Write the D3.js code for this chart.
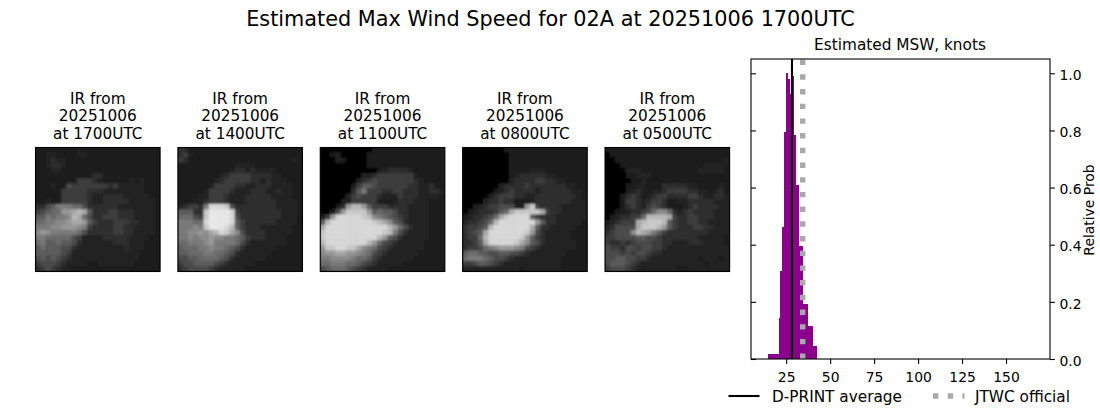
<!DOCTYPE html>
<html><head><meta charset="utf-8">
<script src="https://cdnjs.cloudflare.com/ajax/libs/d3/7.8.5/d3.min.js"></script>
<style>html,body{margin:0;padding:0;background:#fff}svg{display:block;font-family:"DejaVu Sans",sans-serif;fill:#000}</style>
</head><body><svg id="c" width="1100" height="409"></svg>
<script>
const chartTitle = "Estimated Max Wind Speed for 02A at 20251006 1700UTC";
const histTitle = "Estimated MSW, knots";
const yLabel = "Relative Prob";
const xTicks = [25,50,75,100,125,150];
const yTicks = [0,0.2,0.4,0.6,0.8,1.0];
const binEdges = [14.67,20.92,21.68,22.63,23.76,24.9,26.04,27.17,28.3,29.45,30.6,32.3,34.56,37.4,40.25,42.5];
const binValues = [0.019,0.145,0.309,0.463,0.795,1.0,0.979,0.928,0.991,0.784,0.61,0.396,0.193,0.117,0.047];
const dprintAverage = 28.3;
const jtwcOfficial = 34.4;
const legendLabels = ["D-PRINT average","JTWC official"];
const panelTitles = ["1700UTC","1400UTC","1100UTC","0800UTC","0500UTC"];
const panelDate = "20251006";
const ir1700 = ["111111112111111111111111","112211112211111111111111","112322111111111111111111","112332111111111111111111","111221111111111111111111","111111111113311111111111","111111114443211111212111","111211544444443422222111","111114444433322222222111","111114444432233332222211","112114444432233333222221","335688877533333322222221","45677aabcb63334433322221","6687889cb753344433322221","778899abba64333444332221","88899aaa9843333443322221","9a9888887533333443322221","887777754222233333222211","786676653222222333222111","676665532222222223222111","666665422222222222221111","565654322222222222221111","455543222211222222211111","345432211111111111111111"];
const ir1400 = ["331111111111111111111111","342111111111111111111111","431111111111111111111121","111111111112222111111111","111111111123323222211111","111111112344443333221111","111111123444443323222111","111111244443322333222211","111112444432223332232211","111122444322233333222211","111223444322233333322221","234438eeed53333333322221","66633dffffe4333333332221","77754dffffe5333333332221","88877effffe6433333322221","88898dfffec6433322222211","8899a9bcedb9533332222211","889899a99887643332222111","778889a88887532222222111","677788988765322222211111","667778877653222222111111","556677776532222221111111","455666654322222111111111","345555432222211111111111"];
const ir1100 = ["000000000011111111111111","001200000111111111111111","000210000111111111111111","000000000111111111111111","000000000001233332111111","000000002234444444211111","000000023454444444321111","000000146654444443322311","000000368444334433322332","000002454443222433322221","000012444441112333222111","00013acca644433332222111","0015adddda67665332222111","14aeeeeedc98765432222111","6ceeeeeeeedcb96532222111","beeeeeeeeeeeeca753222111","deeeeeeeeeeedc8532222111","deeeeeeeeeeca65322222111","ceeeeeeeeca7543222221111","addeeddb9875432222221111","9aabbaa98754322222211111","889999877643222222111111","778887765432222211111111","567776543222211111111111"];
const ir0800 = ["000000001111111111111111","000000000111111111111111","000000000111111111111111","000000000111111111111111","000000000111122211111111","000000000123333322111111","000000000233334433221111","000000023333433333332211","000000123433332333333221","000002344433223333333321","000023343311123333333222","001234455521ad4333322222","012333467bdddddb43322222","1233457bdeeee64333222222","233457ceeeeeeea633222221","34456ceeeeeeeb6332222211","3456beeeeeeeda5322222111","3447ceeeeeeda64322222111","3346beeeeedb965322222211","3445789aaa98543222222211","677665566554322222221111","788876554322222222211111","445665432222222222211111","222222222221222222211111"];
const ir0500 = ["111111111111111111111111","011111111111111111111111","001111111111111111111112","000111111111111111122221","000022211111111111222221","000011222111111111111111","000001121111111111111111","000011221113333322111121","000012321223444433221231","000134312344333344322332","000144323443112233333222","000134324543111234333322","001123345799732343333222","01233447ccccb43344333222","123444bcdddc643344332222","235555bdddca643334433222","345559cba864333333332222","445555665543333333222221","433434555443322233322221","544355455443222222222222","555454554332222222222222","556655443222222222122212","566654322222222222212222","455543222222221122222222"];
const irPanels = [ir1700,ir1400,ir1100,ir0800,ir0500];

const svg = d3.select("#c");
const FS = 13.9, FL = 15.3;
svg.append("text").attr("x",550.5).attr("y",25.5).attr("text-anchor","middle").attr("font-size",20.8).text(chartTitle);

const defs = svg.append("defs");
defs.append("filter").attr("id","soft").attr("x","-5%").attr("y","-5%").attr("width","110%").attr("height","110%")
  .append("feGaussianBlur").attr("stdDeviation",1.15);
defs.append("clipPath").attr("id","pc").append("rect").attr("width",124.6).attr("height",124);

const panelX = d3.scalePoint().domain(d3.range(5)).range([35.5,605]);
const gridScale = d3.scaleBand().domain(d3.range(24)).range([0,124.6]);
const gridScaleY = d3.scaleBand().domain(d3.range(24)).range([0,124]);
const gray = d3.scaleLinear().domain([0,1,2,3,4,8,15]).range([5,28,35,45,60,122,232]);
irPanels.forEach((rows,p)=>{
  const g = svg.append("g").attr("transform",`translate(${panelX(p)},147.5)`);
  const clip = g.append("g").attr("clip-path","url(#pc)");
  clip.append("rect").attr("width",124.6).attr("height",124).attr("fill","#1c1c1c");
  const inner = clip.append("g").attr("filter","url(#soft)");
  const cells = rows.flatMap((r,j)=>Array.from(r).map((c,i)=>({i,j,v:parseInt(c,16)})));
  inner.selectAll("rect").data(cells).join("rect")
    .attr("x",d=>gridScale(d.i)-0.3).attr("y",d=>gridScaleY(d.j)-0.3)
    .attr("width",gridScale.bandwidth()+0.6).attr("height",gridScaleY.bandwidth()+0.6)
    .attr("fill",d=>{const v=gray(d.v);return d3.rgb(v,v,v)});
  g.append("rect").attr("width",124.6).attr("height",124).attr("fill","none").attr("stroke","#000").attr("stroke-width",1.1);
  const tx = 62.3;
  ["IR from",panelDate,"at "+panelTitles[p]].forEach((t,k)=>{
    g.append("text").attr("x",tx).attr("y",-44+k*17.5).attr("text-anchor","middle").attr("font-size",FL).text(t);
  });
});

// histogram panel
const L=751,R=1050,T=59,B=359;
const x = d3.scaleLinear().domain([5,175]).range([L,R]);
const y = d3.scaleLinear().domain([0,1.05]).range([B,T]);
const bins = binValues.map((v,i)=>({x0:binEdges[i],x1:binEdges[i+1],v}));
svg.append("g").selectAll("rect").data(bins).join("rect")
  .attr("x",d=>x(d.x0)).attr("width",d=>x(d.x1)-x(d.x0)+0.2)
  .attr("y",d=>y(d.v)).attr("height",d=>B-y(d.v))
  .attr("fill","#8b008b").attr("shape-rendering","crispEdges");
svg.append("line").attr("x1",x(dprintAverage)).attr("x2",x(dprintAverage)).attr("y1",B).attr("y2",T)
  .attr("stroke","#000").attr("stroke-width",2.1);
svg.append("line").attr("x1",x(jtwcOfficial)).attr("x2",x(jtwcOfficial)).attr("y1",B).attr("y2",T)
  .attr("stroke","#a9a9a9").attr("stroke-width",5.4).attr("stroke-dasharray","5.4 9.3");
svg.append("rect").attr("x",L).attr("y",T).attr("width",R-L).attr("height",B-T).attr("fill","none").attr("stroke","#000").attr("stroke-width",1.1);

const xa = svg.append("g").attr("transform",`translate(0,${B})`)
  .call(d3.axisBottom(x).tickValues(xTicks).tickSize(4.9).tickPadding(8).tickFormat(d3.format("d")));
xa.select(".domain").remove();
const yr = svg.append("g").attr("transform",`translate(${R},0)`)
  .call(d3.axisRight(y).tickValues(yTicks).tickSize(4.9).tickPadding(4.5).tickFormat(d3.format(".1f")));
yr.select(".domain").remove();
yr.selectAll("text").attr("dy","0.45em");
const yl = svg.append("g").attr("transform",`translate(${L},0)`)
  .call(d3.axisRight(y).tickValues(yTicks).tickSize(4.9).tickFormat(""));
yl.select(".domain").remove();
[xa,yr,yl].forEach(a=>{a.attr("font-family",null).attr("font-size",FS);a.selectAll("line").attr("stroke-width",1.1)});

svg.append("text").attr("x",900).attr("y",50).attr("text-anchor","middle").attr("font-size",FL).text(histTitle);
svg.append("text").attr("transform","translate(1094,210) rotate(-90)").attr("text-anchor","middle").attr("font-size",FS).text(yLabel);

// legend
const lg = svg.append("g");
const legendY = 396;
lg.append("line").attr("x1",728.5).attr("x2",759.5).attr("y1",legendY).attr("y2",legendY).attr("stroke","#000").attr("stroke-width",2.1);
lg.append("line").attr("x1",933).attr("x2",964.5).attr("y1",legendY).attr("y2",legendY).attr("stroke","#a9a9a9").attr("stroke-width",5.4).attr("stroke-dasharray","5.4 9.3");
lg.append("text").attr("x",772).attr("y",legendY+6).attr("font-size",15.3).text(legendLabels[0]);
lg.append("text").attr("x",975).attr("y",legendY+6).attr("font-size",15.3).text(legendLabels[1]);
</script></body></html>
